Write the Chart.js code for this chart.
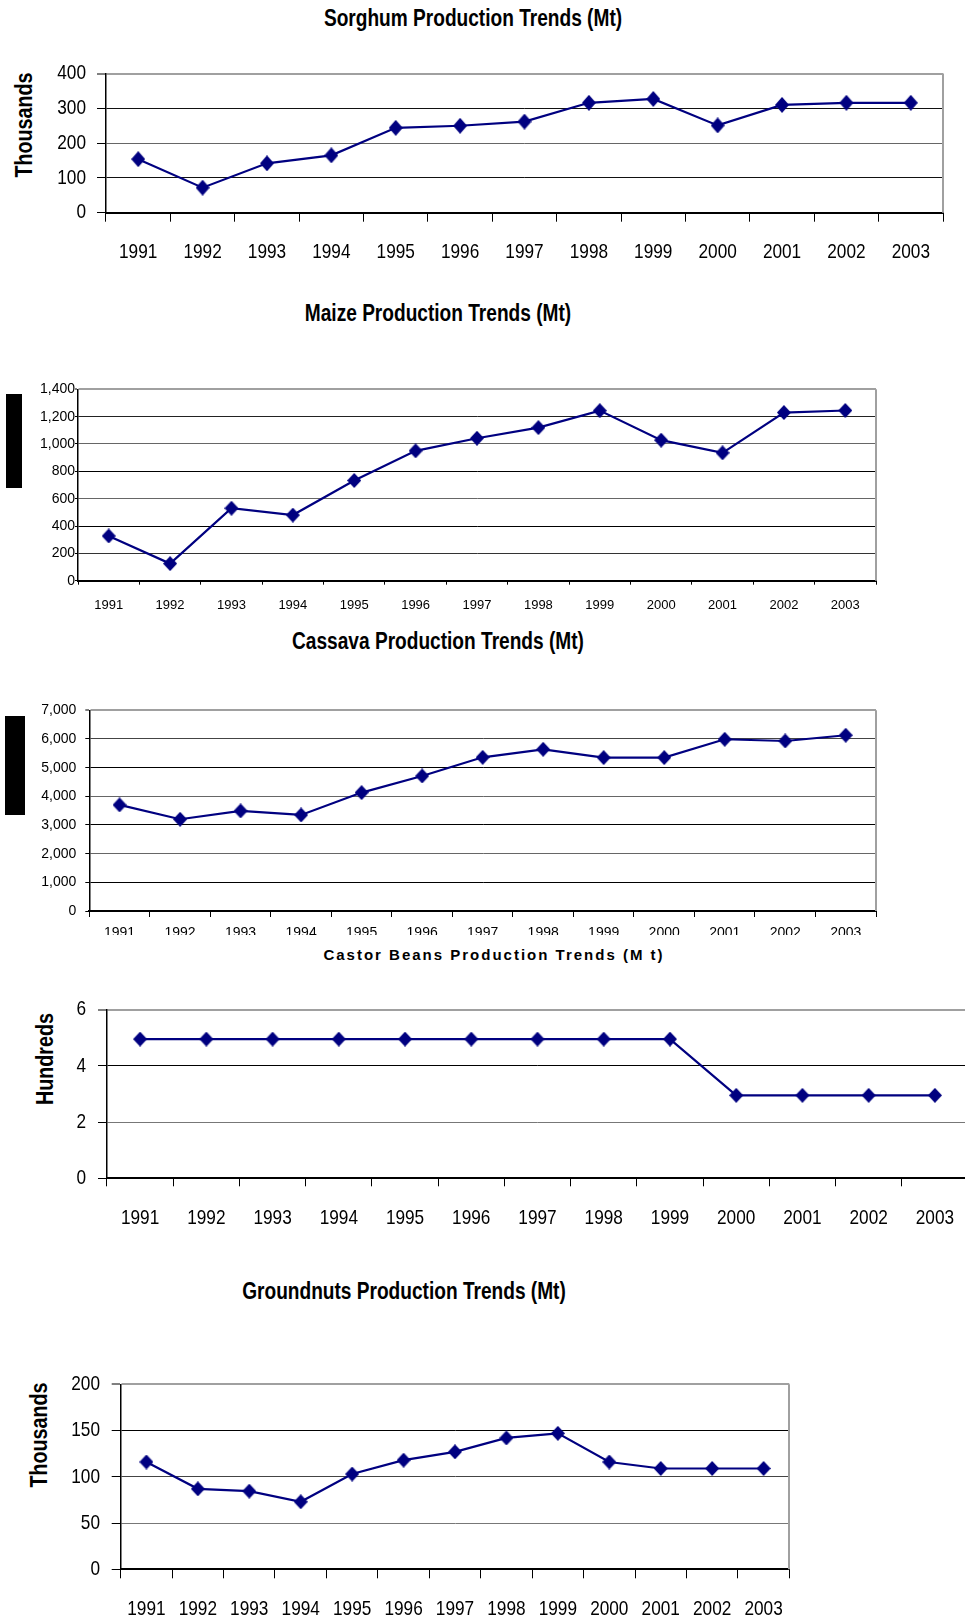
<!DOCTYPE html>
<html>
<head>
<meta charset="utf-8">
<title>Crop Production Trends 1991-2003</title>
<script src="https://cdn.jsdelivr.net/npm/chart.js@4.4.1/dist/chart.umd.min.js"></script>
<style>
  :root { --sx: 0.82; }
  html, body { margin: 0; padding: 0; background: #fff; }
  body { width: 965px; height: 1623px; position: relative; overflow: hidden;
         font-family: 'Liberation Sans', Arial, sans-serif; color: #000; }
  .title { position: absolute; white-space: nowrap; line-height: 1;
           font-family: 'Liberation Sans Narrow', 'Liberation Sans', Arial, sans-serif;
           font-weight: bold; font-size: 23.3px;
           transform: translate(-50%, -50%) scaleX(var(--sx)); }
  .title.spaced { font-family: 'Liberation Sans', Arial, sans-serif;
                  font-size: 15px; letter-spacing: 2px;
                  transform: translate(-50%, -50%); }
  .ytitle { position: absolute; white-space: nowrap; line-height: 1;
            font-family: 'Liberation Sans Narrow', 'Liberation Sans', Arial, sans-serif;
            font-weight: bold; font-size: 24px;
            transform: translate(-50%, -50%) rotate(-90deg) scaleX(var(--sx)); }
  .mask { position: absolute; background: #000; }
  .panel { position: absolute; left: 0; overflow: hidden; }
  .panel canvas { display: block; }
</style>
</head>
<body>

<div class="title" style="left:473px; top:19px;">Sorghum Production Trends (Mt)</div>
<div class="ytitle" style="left:24px; top:125px;">Thousands</div>

<div class="title" style="left:438px; top:314px;">Maize Production Trends (Mt)</div>
<div class="mask" style="left:6px; top:394px; width:16px; height:94px;"></div>

<div class="title" style="left:438px; top:642px;">Cassava Production Trends (Mt)</div>
<div class="mask" style="left:5px; top:716px; width:20px; height:99px;"></div>

<div class="title spaced" style="left:494px; top:954px;">Castor Beans Production Trends (M t)</div>
<div class="ytitle" style="left:45px; top:1059px;">Hundreds</div>

<div class="title" style="left:404px; top:1292px;">Groundnuts Production Trends (Mt)</div>
<div class="ytitle" style="left:39px; top:1435px;">Thousands</div>

<script>
// ---- data -------------------------------------------------------------
const years = ['1991', '1992', '1993', '1994', '1995', '1996', '1997',
               '1998', '1999', '2000', '2001', '2002', '2003'];

// Sorghum, thousands of tonnes
const sorghum = [154, 72, 142, 165, 244, 250, 262, 316, 327, 251, 310, 316, 316];
const sorghumTicks = [0, 100, 200, 300, 400];

// Maize, thousands of tonnes
const maize = [327, 125, 530, 480, 733, 950, 1042, 1120, 1244, 1028, 935, 1230, 1245];
const maizeTicks = [0, 200, 400, 600, 800, 1000, 1200, 1400];

// Cassava, thousands of tonnes
const cassava = [3700, 3200, 3490, 3350, 4130, 4710, 5360, 5640, 5350, 5350, 5990, 5930, 6130];
const cassavaTicks = [0, 1000, 2000, 3000, 4000, 5000, 6000, 7000];

// Castor beans, hundreds of tonnes
const castor = [4.95, 4.95, 4.95, 4.95, 4.95, 4.95, 4.95, 4.95, 4.95, 2.95, 2.95, 2.95, 2.95];
const castorTicks = [0, 2, 4, 6];

// Groundnuts, thousands of tonnes
const groundnuts = [116, 87, 84.5, 73, 103, 118, 127, 142, 147, 116, 109, 109, 109];
const groundnutTicks = [0, 50, 100, 150, 200];

// ---- fonts ------------------------------------------------------------
// Narrow face when installed; otherwise the regular face squeezed to the
// same 82% advance width.
function hasFont(name) {
  const g = document.createElement('canvas').getContext('2d');
  const probe = 'Production 1991 (Mt)';
  g.font = '40px monospace';
  const a = g.measureText(probe).width;
  g.font = "40px '" + name + "', monospace";
  return g.measureText(probe).width !== a;
}
const SQUEEZE = hasFont('Liberation Sans Narrow') ? 1 : 0.82;
document.documentElement.style.setProperty('--sx', SQUEEZE);

const NARROW = "'Liberation Sans Narrow', 'Liberation Sans', Arial, sans-serif";
const REGULAR = "'Liberation Sans', Arial, sans-serif";

// ---- drawing helpers --------------------------------------------------
const NAVY = '#000080';

// filled diamond marker, slightly taller than wide
function diamond(w, h) {
  const c = document.createElement('canvas');
  c.width = w; c.height = h;
  const g = c.getContext('2d');
  g.fillStyle = NAVY;
  g.beginPath();
  g.moveTo(w / 2, 0);
  g.lineTo(w, h / 2);
  g.lineTo(w / 2, h);
  g.lineTo(0, h / 2);
  g.closePath();
  g.fill();
  return c;
}

// condense text set in the narrow family when that face is missing
const narrowText = {
  id: 'narrowText',
  beforeDraw(chart) {
    const ctx = chart.ctx;
    if (SQUEEZE === 1 || ctx.__plainFill) return;
    const plain = ctx.fillText;
    ctx.__plainFill = plain;
    ctx.fillText = function (text, x, y, maxWidth) {
      if (maxWidth === undefined && /Narrow/.test(this.font)) {
        return plain.call(this, text, x, y, this.measureText(text).width * SQUEEZE);
      }
      return maxWidth === undefined
        ? plain.call(this, text, x, y)
        : plain.call(this, text, x, y, maxWidth);
    };
  }
};

// grey right-hand edge of the plot area
const plotFrame = {
  id: 'plotFrame',
  beforeDatasetsDraw(chart) {
    const { ctx, chartArea: a } = chart;
    ctx.save();
    ctx.strokeStyle = '#a0a0a0';
    ctx.lineWidth = 2;
    ctx.beginPath();
    ctx.moveTo(Math.round(a.right), a.top);
    ctx.lineTo(Math.round(a.right), a.bottom);
    ctx.stroke();
    ctx.restore();
  }
};

function lineChart(cfg) {
  const b = cfg.box, a = cfg.area;
  const panel = document.createElement('div');
  panel.className = 'panel';
  panel.style.top = b.top + 'px';
  panel.style.width = b.width + 'px';
  panel.style.height = (b.clip || b.height) + 'px';
  const canvas = document.createElement('canvas');
  canvas.width = b.width;
  canvas.height = b.height;
  panel.appendChild(canvas);
  document.body.appendChild(panel);

  const tv = cfg.ticks;
  const last = tv.length - 1;

  return new Chart(canvas, {
    type: 'line',
    data: {
      labels: years,
      datasets: [{
        data: cfg.values,
        borderColor: NAVY,
        backgroundColor: NAVY,
        borderWidth: 2.2,
        tension: 0,
        fill: false,
        pointStyle: diamond(cfg.marker[0], cfg.marker[1]),
        pointRadius: 7,
        pointHoverRadius: 7,
        clip: false
      }]
    },
    options: {
      responsive: false,
      animation: false,
      events: [],
      layout: {
        autoPadding: false,
        padding: { left: 0, top: a.t - b.top, right: b.width - a.r, bottom: 0 }
      },
      plugins: {
        legend: { display: false },
        tooltip: { enabled: false },
        title: { display: false }
      },
      scales: {
        x: {
          type: 'category',
          offset: true,
          grid: {
            offset: true,
            drawOnChartArea: false,
            drawTicks: true,
            tickLength: cfg.xTick,
            color: '#000',
            tickColor: '#000',
            tickWidth: 1
          },
          border: { display: true, color: '#000', width: 2 },
          ticks: {
            autoSkip: false,
            maxRotation: 0,
            minRotation: 0,
            padding: cfg.xPad,
            color: '#000',
            font: cfg.xFont
          },
          afterFit(scale) { scale.height = b.top + b.height - a.b; }
        },
        y: {
          min: tv[0],
          max: tv[last],
          afterBuildTicks(scale) { scale.ticks = tv.map(v => ({ value: v })); },
          grid: {
            color: ctx => cfg.tones[ctx.index] || '#000',
            lineWidth: ctx => (ctx.index === last ? 2 : 1),
            drawTicks: true,
            tickLength: cfg.yTick,
            tickColor: '#000',
            tickWidth: 1
          },
          border: { display: true, color: '#000', width: 1.5 },
          ticks: {
            padding: cfg.yPad,
            color: '#000',
            font: cfg.yFont,
            callback: v => Number(v).toLocaleString('en-US')
          },
          afterFit(scale) { scale.width = a.l - b.left; }
        }
      }
    },
    plugins: [narrowText, plotFrame]
  });
}

// ---- the five panels --------------------------------------------------
lineChart({
  values: sorghum, ticks: sorghumTicks,
  box: { left: 0, top: 50, width: 965, height: 230 },
  area: { l: 106, t: 70, r: 943, b: 212.7 },
  tones: ['#000', '#111', '#666', '#111', '#a0a0a0'],
  marker: [14, 16],
  xTick: 9, xPad: 17.5, xFont: { family: NARROW, size: 21 },
  yTick: 9, yPad: 11, yFont: { family: NARROW, size: 21 }
});

lineChart({
  values: maize, ticks: maizeTicks,
  box: { left: 0, top: 370, width: 965, height: 250 },
  area: { l: 78, t: 389.3, r: 876, b: 580.7 },
  tones: ['#000', '#333', '#000', '#666', '#000', '#666', '#222', '#a0a0a0'],
  marker: [14, 15],
  xTick: 4, xPad: 12.5, xFont: { family: REGULAR, size: 13 },
  yTick: 3, yPad: 0, yFont: { family: REGULAR, size: 14 }
});

lineChart({
  values: cassava, ticks: cassavaTicks,
  box: { left: 0, top: 690, width: 965, height: 270, clip: 244.5 },
  area: { l: 89.3, t: 710.3, r: 876, b: 911 },
  tones: ['#000', '#000', '#666', '#000', '#666', '#000', '#444', '#a0a0a0'],
  marker: [14, 15],
  xTick: 6, xPad: 7.5, xFont: { family: REGULAR, size: 14 },
  yTick: 4, yPad: 9, yFont: { family: REGULAR, size: 14 }
});

lineChart({
  values: castor, ticks: castorTicks,
  box: { left: 0, top: 985, width: 1010, height: 260 },
  area: { l: 107, t: 1006.7, r: 968, b: 1178.3 },
  tones: ['#000', '#777', '#000', '#a0a0a0'],
  marker: [14, 15],
  xTick: 8, xPad: 19, xFont: { family: NARROW, size: 21 },
  yTick: 9, yPad: 12, yFont: { family: NARROW, size: 21 }
});

lineChart({
  values: groundnuts, ticks: groundnutTicks,
  box: { left: 0, top: 1360, width: 965, height: 263 },
  area: { l: 120.7, t: 1379, r: 789.3, b: 1569.3 },
  tones: ['#000', '#777', '#444', '#000', '#a0a0a0'],
  marker: [14, 15],
  xTick: 9, xPad: 18, xFont: { family: NARROW, size: 21 },
  yTick: 9, yPad: 11.7, yFont: { family: NARROW, size: 21 }
});
</script>
</body>
</html>
